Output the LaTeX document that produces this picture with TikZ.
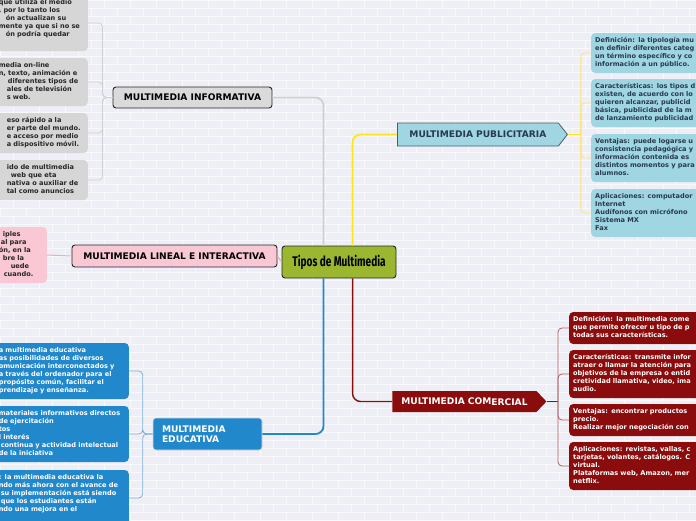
\documentclass[tikz,border=0pt]{standalone}
\usepackage{fontspec}
\setmainfont{DejaVu Sans}
\newfontfamily\titlefont[FakeStretch=0.72]{Fira Sans}
\usetikzlibrary{shapes.symbols}
\definecolor{paper}{RGB}{238,239,246}
\definecolor{brick}{RGB}{249,249,252}
\definecolor{olivegreen}{RGB}{155,183,48}
\definecolor{greyfill}{RGB}{214,214,214}
\definecolor{greytopic}{RGB}{218,218,218}
\definecolor{greyline}{RGB}{208,208,212}
\definecolor{pinkfill}{RGB}{250,200,212}
\definecolor{pinkline}{RGB}{240,172,188}
\definecolor{skyfill}{RGB}{160,213,226}
\definecolor{skyborder}{RGB}{72,92,108}
\definecolor{skytext}{RGB}{38,58,78}
\definecolor{yellowline}{RGB}{255,228,30}
\definecolor{yellowthin}{RGB}{255,226,110}
\definecolor{wine}{RGB}{139,12,12}
\definecolor{wineline}{RGB}{176,96,96}
\definecolor{edublue}{RGB}{34,136,204}
\definecolor{eduline}{RGB}{125,178,222}

\begin{document}
\begin{tikzpicture}[x=1pt,y=-1pt,
    topic/.style={draw=black!85,line width=0.9pt,rounded corners=3pt,inner sep=0pt,
      font=\bfseries\fontsize{9.1}{10}\selectfont},
    leaf/.style={rounded corners=4pt,align=left,inner xsep=2pt,inner ysep=4pt,
      font=\bfseries\fontsize{6.6}{8}\selectfont,
      execute at begin node=\strut,execute at end node=\strut},
    greybox/.style={leaf,fill=greyfill,text=black!85,text width=87pt,anchor=east},
    pinkbox/.style={leaf,fill=pinkfill,text=black!85,text width=46pt,anchor=east},
    bluebox/.style={leaf,fill=edublue,text=white,text width=128pt,anchor=east},
    skybox/.style={leaf,fill=skyfill,text=skytext,text width=140pt,inner xsep=4pt,anchor=west},
    winebox/.style={leaf,fill=wine,text=white,text width=140pt,inner xsep=4pt,anchor=west},
    link/.style={line width=1.8pt,rounded corners=8pt},
    branch/.style={line width=0.8pt,rounded corners=4pt}]
  \useasboundingbox (0,0) rectangle (696,520);
  % background bricks
  \fill[paper] (0,0) rectangle (696,520);
  \foreach \r in {0,...,65}{
    \draw[brick,line width=0.6pt] (0,\r*8) -- (696,\r*8);
    \pgfmathsetmacro\off{mod(\r,2)*13}
    \foreach \c in {-1,...,27}
      \draw[brick,line width=0.6pt] (\c*26+\off,\r*8) -- ++(0,8);
  }

  % main topics
  \node[topic,fill=olivegreen,minimum width=114pt,minimum height=32pt,
    font=\titlefont\bfseries\fontsize{14}{16}\selectfont] (tipos) at (339,262) {Tipos de Multimedia};
  \node[topic,fill=greytopic,minimum width=159pt,minimum height=21pt] (info) at (192.5,97.5) {MULTIMEDIA INFORMATIVA};
  \node[topic,fill=pinkfill,minimum width=205pt,minimum height=22pt] (lineal) at (174.5,256) {MULTIMEDIA LINEAL E INTERACTIVA};
  \node[topic,signal,signal to=east,signal pointer angle=104,fill=skyfill,draw=skyborder,
    line width=0.8pt,rounded corners=0pt,text=skytext,text width=143pt,align=center,
    inner xsep=9pt,minimum height=23pt,anchor=west] (pub) at (397,134.5) {MULTIMEDIA PUBLICITARIA};
  \node[topic,signal,signal to=east,signal pointer angle=93,fill=wine,draw=none,
    rounded corners=0pt,text=white,text width=129pt,align=center,
    inner xsep=7.5pt,minimum height=21pt,anchor=west] (com) at (392,401.5)
    {MULTIMEDIA COM\raisebox{-0.8pt}{ERCIAL}};
  \node[topic,fill=edublue,draw=white!85!black,line width=0.6pt,text=white,
    text width=91pt,align=left,inner xsep=9pt,minimum height=32pt] (edu) at (207.5,434)
    {MULTIMEDIA\\EDUCATIVA};

  % informativa
  \node[greybox] (inf1) at (88,23) {que utiliza el medio\\
    , por lo tanto los\\
    \hspace*{7pt}ón actualizan su\\
    mente ya que si no se\\
    \hspace*{7pt}ón podría quedar\\};
  \node[greybox] (inf2) at (88,82) {media on-line\\
    n, texto, animación e\\
    \hspace*{9pt}diferentes tipos de\\
    \hspace*{8pt}ales de televisión\\
    \hspace*{8pt}s web.};
  \node[greybox] (inf3) at (88,133) {\hspace*{8pt}eso rápido a la\\
    \hspace*{8pt}er parte del mundo.\\
    \hspace*{8pt}e acceso por medio\\
    \hspace*{8pt}a dispositivo móvil.};
  \node[greybox] (inf4) at (88,180) {\hspace*{8pt}ido de multimedia\\
    \hspace*{12pt}web que eta\\
    \hspace*{8pt}nativa o auxiliar de\\
    \hspace*{8pt}tal como anuncios};

  % lineal e interactiva
  \node[pinkbox] (lin1) at (47,255) {\hspace*{4pt}iples\\
    \hspace*{2pt}al para\\
    ón, en la\\
    \hspace*{4pt}bre la\\
    \hspace*{12pt}uede\\
    \hspace*{5pt}cuando.};

  % publicitaria
  \node[skybox] (pub1) at (591,53) {Definición: la tipología mu\\
    en definir diferentes categ\\
    un término específico y co\\
    información a un público.};
  \node[skybox] (pub2) at (591,103) {Características: los tipos d\\
    existen, de acuerdo con lo\\
    quieren alcanzar, publicid\\
    básica, publicidad de la m\\
    de lanzamiento publicidad};
  \node[skybox] (pub3) at (591,158) {Ventajas: puede logarse u\\
    consistencia pedagógica y\\
    información contenida es\\
    distintos momentos y para\\
    alumnos.};
  \node[skybox] (pub4) at (591,213) {Aplicaciones: computador\\
    Internet\\
    Audífonos con micrófono\\
    Sistema MX\\
    Fax};

  % comercial
  \node[winebox] (com1) at (569,328) {Definición: la multimedia come\\
    que permite ofrecer u tipo de p\\
    todas sus características.};
  \node[winebox] (com2) at (569,374) {Características: transmite infor\\
    atraer o llamar la atención para\\
    objetivos de la empresa o entid\\
    cretividad llamativa, video, ima\\
    audio.};
  \node[winebox] (com3) at (569,420) {Ventajas: encontrar productos\\
    precio.\\
    Realizar mejor negociación con};
  \node[winebox] (com4) at (569,466) {Aplicaciones: revistas, vallas, c\\
    tarjetas, volantes, catálogos. C\\
    virtual.\\
    Plataformas web, Amazon, mer\\
    netflix.};

  % educativa
  \node[bluebox] (edu1) at (129,371) {a multimedia educativa\\
    as posibilidades de diversos\\
    omunicación interconectados y\\
    a través del ordenador para el\\
    propósito común, facilitar el\\
    prendizaje y enseñanza.};
  \node[bluebox] (edu2) at (129,434) {materiales informativos directos\\
    de ejercitación\\
    tos\\
    l interés\\
    \hspace*{2pt}continua y actividad intelectual\\
    de la iniciativa};
  \node[bluebox] (edu3) at (129,498) {: la multimedia educativa la\\
    ndo más ahora con el avance de\\
    \hspace*{2pt}su implementación está siendo\\
    \hspace*{2pt}que los estudiantes están\\
    ndo una mejora en el\\};

  % links from the centre
  \draw[link,greyline] (info.east) -| ([xshift=42pt]tipos.north west);
  \draw[link,yellowline] (pub.west) -| ([xshift=71pt]tipos.north west);
  \draw[link,wine,line width=1.4pt] (com.west) -| ([xshift=71pt]tipos.south west);
  \draw[link,edublue] (edu.east) -| ([xshift=42pt]tipos.south west);
  \draw[pinkline,line width=1pt] (lineal.east) -- (tipos.west);
  \draw[pinkline,line width=1pt] (lineal.west) -- (lin1.east);

  % branches
  \foreach \n in {inf1,inf2,inf3,inf4}
    \draw[branch,greyline] (info.west) -- ++(-10,0) |- (\n.east);
  \draw[yellowline,line width=1.6pt] (pub.east) -- ++(13,0);
  \foreach \n in {pub1,pub2,pub3,pub4}
    \draw[branch,yellowthin] (pub.east) ++(13,0) |- (\n.west);
  \draw[wine,line width=1.2pt] (com.east) -- ++(11,0);
  \foreach \n in {com1,com2,com3,com4}
    \draw[branch,wineline] (com.east) ++(11,0) |- (\n.west);
  \foreach \n in {edu1,edu2,edu3}
    \draw[branch,eduline] (edu.west) -- ++(-10,0) |- (\n.east);
\end{tikzpicture}
\end{document}
